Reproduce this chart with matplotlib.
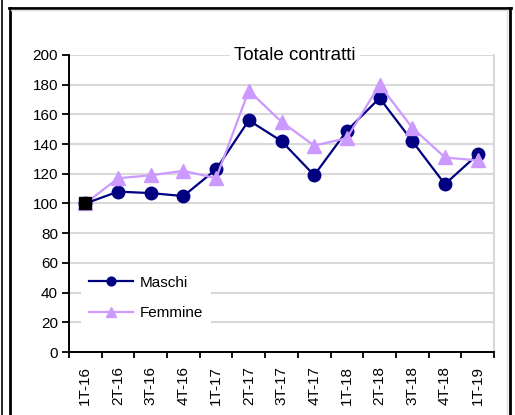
import matplotlib
matplotlib.use("Agg")
import matplotlib.pyplot as plt
from matplotlib.lines import Line2D
import numpy as np

plt.rcParams['font.family'] = ['Liberation Sans', 'DejaVu Sans']

# Trimestri e indici (1T-16 = 100)
trimestri = ['1T-16', '2T-16', '3T-16', '4T-16', '1T-17', '2T-17', '3T-17',
             '4T-17', '1T-18', '2T-18', '3T-18', '4T-18', '1T-19']
maschi = [100, 108, 107, 105, 123, 156, 142, 119, 149, 171, 142, 113, 133]
femmine = [100, 117, 119, 122, 117, 176, 155, 139, 144, 180, 151, 131, 129]

W, H = 515, 415
fig = plt.figure(figsize=(W / 100, H / 100), dpi=100)
ax = fig.add_axes([69 / W, 1 - 352 / H, 425 / W, 297 / H])

x = np.arange(len(trimestri))
ax.plot(x, maschi, color='#000080', lw=1.6, marker='o', ms=9,
        mec='#000080', mfc='#000080', label='Maschi', zorder=3)
ax.plot(x, femmine, color='#cc99ff', lw=1.6, marker='^', ms=10,
        mec='#cc99ff', mfc='#cc99ff', label='Femmine', zorder=4)
# punto base comune
ax.plot(x[0], maschi[0], marker='s', ms=9, color='black', zorder=5)

ax.set_xlim(-0.5, len(trimestri) - 0.5)
ax.set_ylim(0, 200)
ax.set_yticks(np.arange(0, 201, 20))
ax.yaxis.grid(True, color='#d9d9d9', lw=1.5)
ax.set_axisbelow(True)

ax.set_xticks(x)
ax.set_xticklabels(trimestri, rotation=90, fontsize=11)
ax.set_xticks(np.arange(-0.5, len(trimestri)), minor=True)
ax.tick_params(axis='x', which='major', length=0, pad=10)
ax.tick_params(axis='x', which='minor', length=4, width=1.3, direction='out')
ax.tick_params(axis='y', length=5, width=1.3, direction='out', labelsize=11, pad=3)

ax.spines['top'].set_visible(False)
ax.spines['right'].set_color('#d9d9d9')
ax.spines['right'].set_linewidth(1.5)
for s in ('left', 'bottom'):
    ax.spines[s].set_linewidth(1.4)

ax.text(0.532, 1.0, 'Totale contratti', transform=ax.transAxes, fontsize=13.5,
        ha='center', va='center',
        bbox=dict(facecolor='white', edgecolor='none', pad=3), zorder=6)

leg = ax.legend(loc='lower left', bbox_to_anchor=(0.01, 0.055), fontsize=11,
                frameon=True, fancybox=False, handlelength=2.9,
                labelspacing=1.1, handletextpad=0.45, markerscale=0.7,
                borderpad=0.5)
leg.get_frame().set_edgecolor('none')
leg.get_frame().set_facecolor('white')
leg.get_frame().set_alpha(1)

# cornice esterna
def px_line(x0, y0, x1, y1, **kw):
    fig.add_artist(Line2D([x0 / W, x1 / W], [1 - y0 / H, 1 - y1 / H],
                          transform=fig.transFigure, **kw))

px_line(1.5, 0, 1.5, H, color='black', lw=1.2)
px_line(10, 8, 10, H, color='black', lw=2)
px_line(9, 8, 511, 8, color='black', lw=2)
px_line(510, 8, 510, H, color='black', lw=2)
px_line(11, 10, 507, 10, color='#dddddd', lw=1)
px_line(507, 10, 507, H, color='#dddddd', lw=1)

fig.savefig('out.png', dpi=100)
